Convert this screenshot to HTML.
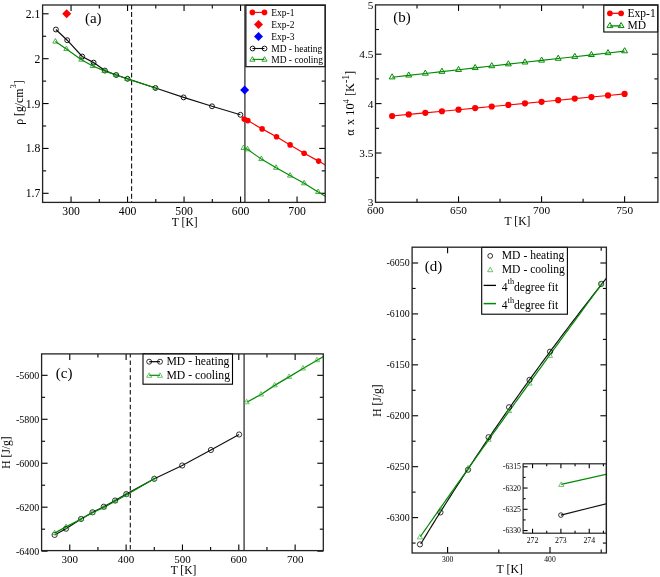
<!DOCTYPE html>
<html><head><meta charset="utf-8"><style>
html,body{margin:0;padding:0;background:#fff;}
svg{display:block;font-family:"Liberation Serif", serif;will-change:transform;filter:blur(0.3px);}
text{fill:#000;}
</style></head><body>
<svg width="660" height="577" viewBox="0 0 660 577">
<rect width="660" height="577" fill="#fff"/>
<clipPath id="ca"><rect x="42.6" y="5.0" width="282.59999999999997" height="197.4"/></clipPath>
<line x1="71.05" y1="202.4" x2="71.05" y2="196.4" stroke="#000" stroke-width="1.1" />
<line x1="71.05" y1="5" x2="71.05" y2="11" stroke="#000" stroke-width="1.1" />
<line x1="127.55" y1="202.4" x2="127.55" y2="196.4" stroke="#000" stroke-width="1.1" />
<line x1="127.55" y1="5" x2="127.55" y2="11" stroke="#000" stroke-width="1.1" />
<line x1="184.05" y1="202.4" x2="184.05" y2="196.4" stroke="#000" stroke-width="1.1" />
<line x1="184.05" y1="5" x2="184.05" y2="11" stroke="#000" stroke-width="1.1" />
<line x1="240.55" y1="202.4" x2="240.55" y2="196.4" stroke="#000" stroke-width="1.1" />
<line x1="240.55" y1="5" x2="240.55" y2="11" stroke="#000" stroke-width="1.1" />
<line x1="297.05" y1="202.4" x2="297.05" y2="196.4" stroke="#000" stroke-width="1.1" />
<line x1="297.05" y1="5" x2="297.05" y2="11" stroke="#000" stroke-width="1.1" />
<line x1="99.3" y1="202.4" x2="99.3" y2="198.9" stroke="#000" stroke-width="1.1" />
<line x1="99.3" y1="5" x2="99.3" y2="8.5" stroke="#000" stroke-width="1.1" />
<line x1="155.8" y1="202.4" x2="155.8" y2="198.9" stroke="#000" stroke-width="1.1" />
<line x1="155.8" y1="5" x2="155.8" y2="8.5" stroke="#000" stroke-width="1.1" />
<line x1="212.3" y1="202.4" x2="212.3" y2="198.9" stroke="#000" stroke-width="1.1" />
<line x1="212.3" y1="5" x2="212.3" y2="8.5" stroke="#000" stroke-width="1.1" />
<line x1="268.8" y1="202.4" x2="268.8" y2="198.9" stroke="#000" stroke-width="1.1" />
<line x1="268.8" y1="5" x2="268.8" y2="8.5" stroke="#000" stroke-width="1.1" />
<line x1="42.6" y1="193.3" x2="48.6" y2="193.3" stroke="#000" stroke-width="1.1" />
<line x1="325.2" y1="193.3" x2="319.2" y2="193.3" stroke="#000" stroke-width="1.1" />
<line x1="42.6" y1="148.43" x2="48.6" y2="148.43" stroke="#000" stroke-width="1.1" />
<line x1="325.2" y1="148.43" x2="319.2" y2="148.43" stroke="#000" stroke-width="1.1" />
<line x1="42.6" y1="103.55" x2="48.6" y2="103.55" stroke="#000" stroke-width="1.1" />
<line x1="325.2" y1="103.55" x2="319.2" y2="103.55" stroke="#000" stroke-width="1.1" />
<line x1="42.6" y1="58.68" x2="48.6" y2="58.68" stroke="#000" stroke-width="1.1" />
<line x1="325.2" y1="58.68" x2="319.2" y2="58.68" stroke="#000" stroke-width="1.1" />
<line x1="42.6" y1="13.8" x2="48.6" y2="13.8" stroke="#000" stroke-width="1.1" />
<line x1="325.2" y1="13.8" x2="319.2" y2="13.8" stroke="#000" stroke-width="1.1" />
<line x1="42.6" y1="170.86" x2="46.1" y2="170.86" stroke="#000" stroke-width="1.1" />
<line x1="325.2" y1="170.86" x2="321.7" y2="170.86" stroke="#000" stroke-width="1.1" />
<line x1="42.6" y1="125.99" x2="46.1" y2="125.99" stroke="#000" stroke-width="1.1" />
<line x1="325.2" y1="125.99" x2="321.7" y2="125.99" stroke="#000" stroke-width="1.1" />
<line x1="42.6" y1="81.11" x2="46.1" y2="81.11" stroke="#000" stroke-width="1.1" />
<line x1="325.2" y1="81.11" x2="321.7" y2="81.11" stroke="#000" stroke-width="1.1" />
<line x1="42.6" y1="36.24" x2="46.1" y2="36.24" stroke="#000" stroke-width="1.1" />
<line x1="325.2" y1="36.24" x2="321.7" y2="36.24" stroke="#000" stroke-width="1.1" />
<text x="71.05" y="214.9" font-size="11.7" text-anchor="middle" >300</text>
<text x="127.55" y="214.9" font-size="11.7" text-anchor="middle" >400</text>
<text x="184.05" y="214.9" font-size="11.7" text-anchor="middle" >500</text>
<text x="240.55" y="214.9" font-size="11.7" text-anchor="middle" >600</text>
<text x="297.05" y="214.9" font-size="11.7" text-anchor="middle" >700</text>
<text x="40.3" y="197.3" font-size="11.7" text-anchor="end" >1.7</text>
<text x="40.3" y="152.43" font-size="11.7" text-anchor="end" >1.8</text>
<text x="40.3" y="107.55" font-size="11.7" text-anchor="end" >1.9</text>
<text x="40.3" y="62.68" font-size="11.7" text-anchor="end" >2</text>
<text x="40.3" y="17.8" font-size="11.7" text-anchor="end" >2.1</text>
<text x="184.7" y="225.8" font-size="11.5" text-anchor="middle" >T [K]</text>
<text transform="translate(22.9,102.6) rotate(-90)" font-size="11.8" text-anchor="middle">ρ [g/cm<tspan dy="-6.5" font-size="8.5">3</tspan><tspan dy="6.5">]</tspan></text>
<text x="84.9" y="22.7" font-size="15" text-anchor="start" >(a)</text>
<line x1="131.6" y1="5" x2="131.6" y2="202.4" stroke="#111" stroke-width="1.1" stroke-dasharray="4.9 2.67" stroke-dashoffset="0.47"/>
<line x1="244.9" y1="5" x2="244.9" y2="202.4" stroke="#4d4d4d" stroke-width="1.5" />
<g clip-path="url(#ca)">
<polyline points="55.9,29.5 67.2,40.2 82.2,56.5 93.6,62.6 104.9,70.6 116.2,75 127.5,78.8 155.5,88 183.6,97.4 212,106.3 240.4,114.8" fill="none" stroke="#111" stroke-width="1.2" stroke-linejoin="round" />
<polyline points="55.4,41.6 66.4,49.1 81.4,59.7 92.8,66 104.4,70.9 116,75 127.3,78.9 155.5,88" fill="none" stroke="#008b00" stroke-width="1.2" stroke-linejoin="round" />
<polyline points="244.2,119.1 247.8,120.6 262.1,128.9 276.5,136.7 290.1,144.9 304.1,153.2 318.6,161.1 332.7,169.2" fill="none" stroke="#f00" stroke-width="1.2" stroke-linejoin="round" />
<polyline points="243.6,148 247.5,149.3 261.3,159.1 276.1,167.8 290.1,175.6 304.1,183.3 318.1,192 332.1,200.1" fill="none" stroke="#008b00" stroke-width="1.15" stroke-linejoin="round" />
<circle cx="55.9" cy="29.5" r="2.45" fill="none" stroke="#000" stroke-width="0.9"/>
<circle cx="67.2" cy="40.2" r="2.45" fill="none" stroke="#000" stroke-width="0.9"/>
<circle cx="82.2" cy="56.5" r="2.45" fill="none" stroke="#000" stroke-width="0.9"/>
<circle cx="93.6" cy="62.6" r="2.45" fill="none" stroke="#000" stroke-width="0.9"/>
<circle cx="104.9" cy="70.6" r="2.45" fill="none" stroke="#000" stroke-width="0.9"/>
<circle cx="116.2" cy="75" r="2.45" fill="none" stroke="#000" stroke-width="0.9"/>
<circle cx="127.5" cy="78.8" r="2.45" fill="none" stroke="#000" stroke-width="0.9"/>
<circle cx="155.5" cy="88" r="2.45" fill="none" stroke="#000" stroke-width="0.9"/>
<circle cx="183.6" cy="97.4" r="2.45" fill="none" stroke="#000" stroke-width="0.9"/>
<circle cx="212" cy="106.3" r="2.45" fill="none" stroke="#000" stroke-width="0.9"/>
<circle cx="240.4" cy="114.8" r="2.45" fill="none" stroke="#000" stroke-width="0.9"/>
<polygon points="55.4,38.6 52.8,43.1 58,43.1" fill="none" stroke="#1c9a1c" stroke-width="0.8" stroke-linejoin="round"/>
<polygon points="66.4,46.1 63.8,50.6 69,50.6" fill="none" stroke="#1c9a1c" stroke-width="0.8" stroke-linejoin="round"/>
<polygon points="81.4,56.7 78.8,61.2 84,61.2" fill="none" stroke="#1c9a1c" stroke-width="0.8" stroke-linejoin="round"/>
<polygon points="92.8,63 90.2,67.5 95.4,67.5" fill="none" stroke="#1c9a1c" stroke-width="0.8" stroke-linejoin="round"/>
<polygon points="104.4,67.9 101.8,72.4 107,72.4" fill="none" stroke="#1c9a1c" stroke-width="0.8" stroke-linejoin="round"/>
<polygon points="116,72 113.4,76.5 118.6,76.5" fill="none" stroke="#1c9a1c" stroke-width="0.8" stroke-linejoin="round"/>
<polygon points="127.3,75.9 124.7,80.4 129.9,80.4" fill="none" stroke="#1c9a1c" stroke-width="0.8" stroke-linejoin="round"/>
<polygon points="155.5,85 152.9,89.5 158.1,89.5" fill="none" stroke="#1c9a1c" stroke-width="0.8" stroke-linejoin="round"/>
<circle cx="244.2" cy="119.1" r="2.8" fill="#f00" stroke="#f00" stroke-width="0"/>
<circle cx="247.8" cy="120.6" r="2.8" fill="#f00" stroke="#f00" stroke-width="0"/>
<circle cx="262.1" cy="128.9" r="2.8" fill="#f00" stroke="#f00" stroke-width="0"/>
<circle cx="276.5" cy="136.7" r="2.8" fill="#f00" stroke="#f00" stroke-width="0"/>
<circle cx="290.1" cy="144.9" r="2.8" fill="#f00" stroke="#f00" stroke-width="0"/>
<circle cx="304.1" cy="153.2" r="2.8" fill="#f00" stroke="#f00" stroke-width="0"/>
<circle cx="318.6" cy="161.1" r="2.8" fill="#f00" stroke="#f00" stroke-width="0"/>
<circle cx="332.7" cy="169.2" r="2.8" fill="#f00" stroke="#f00" stroke-width="0"/>
<polygon points="243.6,145 241,149.5 246.2,149.5" fill="none" stroke="#1c9a1c" stroke-width="0.8" stroke-linejoin="round"/>
<polygon points="247.5,146.3 244.9,150.8 250.1,150.8" fill="none" stroke="#1c9a1c" stroke-width="0.8" stroke-linejoin="round"/>
<polygon points="261.3,156.1 258.7,160.6 263.9,160.6" fill="none" stroke="#1c9a1c" stroke-width="0.8" stroke-linejoin="round"/>
<polygon points="276.1,164.8 273.5,169.3 278.7,169.3" fill="none" stroke="#1c9a1c" stroke-width="0.8" stroke-linejoin="round"/>
<polygon points="290.1,172.6 287.5,177.1 292.7,177.1" fill="none" stroke="#1c9a1c" stroke-width="0.8" stroke-linejoin="round"/>
<polygon points="304.1,180.3 301.5,184.8 306.7,184.8" fill="none" stroke="#1c9a1c" stroke-width="0.8" stroke-linejoin="round"/>
<polygon points="318.1,189 315.5,193.5 320.7,193.5" fill="none" stroke="#1c9a1c" stroke-width="0.8" stroke-linejoin="round"/>
<polygon points="332.1,197.1 329.5,201.6 334.7,201.6" fill="none" stroke="#1c9a1c" stroke-width="0.8" stroke-linejoin="round"/>
<polygon points="66.7,9.3 71.2,13.8 66.7,18.3 62.2,13.8" fill="#f00" stroke="none"/>
<polygon points="244.6,85.5 249.1,90 244.6,94.5 240.1,90" fill="#00f" stroke="none"/>
</g>
<rect x="245.9" y="5.3" width="79.29999999999998" height="61.400000000000006" fill="#fff" stroke="#000" stroke-width="1.1"/>
<line x1="252.4" y1="12.4" x2="264.5" y2="12.4" stroke="#f00" stroke-width="1.1" />
<circle cx="252.4" cy="12.4" r="2.8" fill="#f00" stroke="#f00" stroke-width="0"/>
<circle cx="264.5" cy="12.4" r="2.8" fill="#f00" stroke="#f00" stroke-width="0"/>
<polygon points="258.5,20.1 263,24.6 258.5,29.1 254,24.6" fill="#f00" stroke="none"/>
<polygon points="258.5,31.9 263,36.4 258.5,40.9 254,36.4" fill="#00f" stroke="none"/>
<line x1="252.4" y1="48.5" x2="264.5" y2="48.5" stroke="#111" stroke-width="1.1" />
<circle cx="252.6" cy="48.5" r="2.4" fill="none" stroke="#000" stroke-width="0.9"/>
<circle cx="264.5" cy="48.5" r="2.4" fill="none" stroke="#000" stroke-width="0.9"/>
<line x1="252.4" y1="59.4" x2="264.5" y2="59.4" stroke="#008b00" stroke-width="1.1" />
<polygon points="252.4,56.7 249.8,61.2 255,61.2" fill="none" stroke="#008b00" stroke-width="0.8" stroke-linejoin="round"/>
<polygon points="264.5,56.7 261.9,61.2 267.1,61.2" fill="none" stroke="#008b00" stroke-width="0.8" stroke-linejoin="round"/>
<text x="271.2" y="15.7" font-size="9.5" text-anchor="start" >Exp-1</text>
<text x="271.2" y="27.5" font-size="9.5" text-anchor="start" >Exp-2</text>
<text x="271.2" y="39.7" font-size="9.5" text-anchor="start" >Exp-3</text>
<text x="271.2" y="51.8" font-size="9.5" text-anchor="start" >MD - heating</text>
<text x="271.2" y="62.7" font-size="9.5" text-anchor="start" >MD - cooling</text>
<rect x="42.6" y="5" width="282.6" height="197.4" fill="none" stroke="#222" stroke-width="1.3"/>
<line x1="458.53" y1="202.3" x2="458.53" y2="196.3" stroke="#000" stroke-width="1.1" />
<line x1="458.53" y1="4.9" x2="458.53" y2="10.9" stroke="#000" stroke-width="1.1" />
<line x1="541.57" y1="202.3" x2="541.57" y2="196.3" stroke="#000" stroke-width="1.1" />
<line x1="541.57" y1="4.9" x2="541.57" y2="10.9" stroke="#000" stroke-width="1.1" />
<line x1="624.61" y1="202.3" x2="624.61" y2="196.3" stroke="#000" stroke-width="1.1" />
<line x1="624.61" y1="4.9" x2="624.61" y2="10.9" stroke="#000" stroke-width="1.1" />
<line x1="417.02" y1="202.3" x2="417.02" y2="198.8" stroke="#000" stroke-width="1.1" />
<line x1="417.02" y1="4.9" x2="417.02" y2="8.4" stroke="#000" stroke-width="1.1" />
<line x1="500.05" y1="202.3" x2="500.05" y2="198.8" stroke="#000" stroke-width="1.1" />
<line x1="500.05" y1="4.9" x2="500.05" y2="8.4" stroke="#000" stroke-width="1.1" />
<line x1="583.09" y1="202.3" x2="583.09" y2="198.8" stroke="#000" stroke-width="1.1" />
<line x1="583.09" y1="4.9" x2="583.09" y2="8.4" stroke="#000" stroke-width="1.1" />
<line x1="375.5" y1="153" x2="381.5" y2="153" stroke="#000" stroke-width="1.1" />
<line x1="657.9" y1="153" x2="651.9" y2="153" stroke="#000" stroke-width="1.1" />
<line x1="375.5" y1="103.6" x2="381.5" y2="103.6" stroke="#000" stroke-width="1.1" />
<line x1="657.9" y1="103.6" x2="651.9" y2="103.6" stroke="#000" stroke-width="1.1" />
<line x1="375.5" y1="54.2" x2="381.5" y2="54.2" stroke="#000" stroke-width="1.1" />
<line x1="657.9" y1="54.2" x2="651.9" y2="54.2" stroke="#000" stroke-width="1.1" />
<line x1="375.5" y1="177.7" x2="379" y2="177.7" stroke="#000" stroke-width="1.1" />
<line x1="657.9" y1="177.7" x2="654.4" y2="177.7" stroke="#000" stroke-width="1.1" />
<line x1="375.5" y1="128.3" x2="379" y2="128.3" stroke="#000" stroke-width="1.1" />
<line x1="657.9" y1="128.3" x2="654.4" y2="128.3" stroke="#000" stroke-width="1.1" />
<line x1="375.5" y1="78.9" x2="379" y2="78.9" stroke="#000" stroke-width="1.1" />
<line x1="657.9" y1="78.9" x2="654.4" y2="78.9" stroke="#000" stroke-width="1.1" />
<line x1="375.5" y1="29.5" x2="379" y2="29.5" stroke="#000" stroke-width="1.1" />
<line x1="657.9" y1="29.5" x2="654.4" y2="29.5" stroke="#000" stroke-width="1.1" />
<text x="375.5" y="214.1" font-size="11.3" text-anchor="middle" >600</text>
<text x="458.53" y="214.1" font-size="11.3" text-anchor="middle" >650</text>
<text x="541.57" y="214.1" font-size="11.3" text-anchor="middle" >700</text>
<text x="624.61" y="214.1" font-size="11.3" text-anchor="middle" >750</text>
<text x="373.4" y="206.3" font-size="11.3" text-anchor="end" >3</text>
<text x="373.4" y="156.9" font-size="11.3" text-anchor="end" >3.5</text>
<text x="373.4" y="107.5" font-size="11.3" text-anchor="end" >4</text>
<text x="373.4" y="58.1" font-size="11.3" text-anchor="end" >4.5</text>
<text x="373.4" y="8.7" font-size="11.3" text-anchor="end" >5</text>
<text x="517.5" y="225.2" font-size="11.6" text-anchor="middle" >T [K]</text>
<text transform="translate(354.3,103.3) rotate(-90)" font-size="12.3" text-anchor="middle">α<tspan dx="1.3"> x 10</tspan><tspan dy="-5.5" font-size="8.5">4</tspan><tspan dy="5.5"> [K</tspan><tspan dy="-5.5" font-size="9.8">-1</tspan><tspan dy="5.5">]</tspan></text>
<text x="393.3" y="21.6" font-size="15" text-anchor="start" >(b)</text>
<polyline points="392.11,116 408.71,114.42 425.32,112.84 441.93,111.26 458.53,109.68 475.14,108.1 491.75,106.52 508.36,104.94 524.96,103.36 541.57,101.78 558.18,100.2 574.78,98.62 591.39,97.04 608,95.46 624.61,93.88" fill="none" stroke="#f00" stroke-width="1.1" stroke-linejoin="round" />
<polyline points="392.11,77.2 408.71,75.34 425.32,73.47 441.93,71.61 458.53,69.74 475.14,67.88 491.75,66.02 508.36,64.15 524.96,62.29 541.57,60.42 558.18,58.56 574.78,56.7 591.39,54.83 608,52.97 624.61,51.1" fill="none" stroke="#008b00" stroke-width="1.1" stroke-linejoin="round" />
<circle cx="392.11" cy="116" r="3.1" fill="#f00" stroke="#f00" stroke-width="0"/>
<circle cx="408.71" cy="114.42" r="3.1" fill="#f00" stroke="#f00" stroke-width="0"/>
<circle cx="425.32" cy="112.84" r="3.1" fill="#f00" stroke="#f00" stroke-width="0"/>
<circle cx="441.93" cy="111.26" r="3.1" fill="#f00" stroke="#f00" stroke-width="0"/>
<circle cx="458.53" cy="109.68" r="3.1" fill="#f00" stroke="#f00" stroke-width="0"/>
<circle cx="475.14" cy="108.1" r="3.1" fill="#f00" stroke="#f00" stroke-width="0"/>
<circle cx="491.75" cy="106.52" r="3.1" fill="#f00" stroke="#f00" stroke-width="0"/>
<circle cx="508.36" cy="104.94" r="3.1" fill="#f00" stroke="#f00" stroke-width="0"/>
<circle cx="524.96" cy="103.36" r="3.1" fill="#f00" stroke="#f00" stroke-width="0"/>
<circle cx="541.57" cy="101.78" r="3.1" fill="#f00" stroke="#f00" stroke-width="0"/>
<circle cx="558.18" cy="100.2" r="3.1" fill="#f00" stroke="#f00" stroke-width="0"/>
<circle cx="574.78" cy="98.62" r="3.1" fill="#f00" stroke="#f00" stroke-width="0"/>
<circle cx="591.39" cy="97.04" r="3.1" fill="#f00" stroke="#f00" stroke-width="0"/>
<circle cx="608" cy="95.46" r="3.1" fill="#f00" stroke="#f00" stroke-width="0"/>
<circle cx="624.61" cy="93.88" r="3.1" fill="#f00" stroke="#f00" stroke-width="0"/>
<polygon points="392.11,73.8 389.16,78.9 395.05,78.9" fill="none" stroke="#008b00" stroke-width="1.0" stroke-linejoin="round"/>
<polygon points="408.71,71.94 405.77,77.04 411.66,77.04" fill="none" stroke="#008b00" stroke-width="1.0" stroke-linejoin="round"/>
<polygon points="425.32,70.07 422.38,75.17 428.27,75.17" fill="none" stroke="#008b00" stroke-width="1.0" stroke-linejoin="round"/>
<polygon points="441.93,68.21 438.98,73.31 444.87,73.31" fill="none" stroke="#008b00" stroke-width="1.0" stroke-linejoin="round"/>
<polygon points="458.53,66.34 455.59,71.44 461.48,71.44" fill="none" stroke="#008b00" stroke-width="1.0" stroke-linejoin="round"/>
<polygon points="475.14,64.48 472.2,69.58 478.09,69.58" fill="none" stroke="#008b00" stroke-width="1.0" stroke-linejoin="round"/>
<polygon points="491.75,62.62 488.8,67.72 494.69,67.72" fill="none" stroke="#008b00" stroke-width="1.0" stroke-linejoin="round"/>
<polygon points="508.36,60.75 505.41,65.85 511.3,65.85" fill="none" stroke="#008b00" stroke-width="1.0" stroke-linejoin="round"/>
<polygon points="524.96,58.89 522.02,63.99 527.91,63.99" fill="none" stroke="#008b00" stroke-width="1.0" stroke-linejoin="round"/>
<polygon points="541.57,57.02 538.63,62.12 544.51,62.12" fill="none" stroke="#008b00" stroke-width="1.0" stroke-linejoin="round"/>
<polygon points="558.18,55.16 555.23,60.26 561.12,60.26" fill="none" stroke="#008b00" stroke-width="1.0" stroke-linejoin="round"/>
<polygon points="574.78,53.3 571.84,58.4 577.73,58.4" fill="none" stroke="#008b00" stroke-width="1.0" stroke-linejoin="round"/>
<polygon points="591.39,51.43 588.45,56.53 594.34,56.53" fill="none" stroke="#008b00" stroke-width="1.0" stroke-linejoin="round"/>
<polygon points="608,49.57 605.05,54.67 610.94,54.67" fill="none" stroke="#008b00" stroke-width="1.0" stroke-linejoin="round"/>
<polygon points="624.61,47.7 621.66,52.8 627.55,52.8" fill="none" stroke="#008b00" stroke-width="1.0" stroke-linejoin="round"/>
<rect x="603.8" y="5.1" width="53.90000000000009" height="26.9" fill="#fff" stroke="#000" stroke-width="1.1"/>
<line x1="609.9" y1="13.3" x2="621.1" y2="13.3" stroke="#f00" stroke-width="1.3" />
<circle cx="609.9" cy="13.3" r="2.9" fill="#f00" stroke="#f00" stroke-width="0"/>
<circle cx="621.1" cy="13.3" r="2.9" fill="#f00" stroke="#f00" stroke-width="0"/>
<line x1="609.9" y1="25.9" x2="621.1" y2="25.9" stroke="#008b00" stroke-width="1.3" />
<polygon points="609.9,22.5 606.96,27.6 612.84,27.6" fill="none" stroke="#008b00" stroke-width="1.0" stroke-linejoin="round"/>
<polygon points="621.1,22.5 618.16,27.6 624.04,27.6" fill="none" stroke="#008b00" stroke-width="1.0" stroke-linejoin="round"/>
<text x="627.6" y="16.8" font-size="11.5" text-anchor="start" >Exp-1</text>
<text x="627.6" y="29.1" font-size="11.5" text-anchor="start" >MD</text>
<rect x="375.5" y="4.9" width="282.4" height="197.4" fill="none" stroke="#222" stroke-width="1.3"/>
<clipPath id="cc"><rect x="41.6" y="353.9" width="281.7" height="196.70000000000005"/></clipPath>
<line x1="69.77" y1="550.6" x2="69.77" y2="544.6" stroke="#000" stroke-width="1.1" />
<line x1="69.77" y1="353.9" x2="69.77" y2="359.9" stroke="#000" stroke-width="1.1" />
<line x1="126.11" y1="550.6" x2="126.11" y2="544.6" stroke="#000" stroke-width="1.1" />
<line x1="126.11" y1="353.9" x2="126.11" y2="359.9" stroke="#000" stroke-width="1.1" />
<line x1="182.45" y1="550.6" x2="182.45" y2="544.6" stroke="#000" stroke-width="1.1" />
<line x1="182.45" y1="353.9" x2="182.45" y2="359.9" stroke="#000" stroke-width="1.1" />
<line x1="238.79" y1="550.6" x2="238.79" y2="544.6" stroke="#000" stroke-width="1.1" />
<line x1="238.79" y1="353.9" x2="238.79" y2="359.9" stroke="#000" stroke-width="1.1" />
<line x1="295.13" y1="550.6" x2="295.13" y2="544.6" stroke="#000" stroke-width="1.1" />
<line x1="295.13" y1="353.9" x2="295.13" y2="359.9" stroke="#000" stroke-width="1.1" />
<line x1="97.94" y1="550.6" x2="97.94" y2="547.1" stroke="#000" stroke-width="1.1" />
<line x1="97.94" y1="353.9" x2="97.94" y2="357.4" stroke="#000" stroke-width="1.1" />
<line x1="154.28" y1="550.6" x2="154.28" y2="547.1" stroke="#000" stroke-width="1.1" />
<line x1="154.28" y1="353.9" x2="154.28" y2="357.4" stroke="#000" stroke-width="1.1" />
<line x1="210.62" y1="550.6" x2="210.62" y2="547.1" stroke="#000" stroke-width="1.1" />
<line x1="210.62" y1="353.9" x2="210.62" y2="357.4" stroke="#000" stroke-width="1.1" />
<line x1="266.96" y1="550.6" x2="266.96" y2="547.1" stroke="#000" stroke-width="1.1" />
<line x1="266.96" y1="353.9" x2="266.96" y2="357.4" stroke="#000" stroke-width="1.1" />
<line x1="41.6" y1="551.16" x2="47.6" y2="551.16" stroke="#000" stroke-width="1.1" />
<line x1="323.3" y1="551.16" x2="317.3" y2="551.16" stroke="#000" stroke-width="1.1" />
<line x1="41.6" y1="507.2" x2="47.6" y2="507.2" stroke="#000" stroke-width="1.1" />
<line x1="323.3" y1="507.2" x2="317.3" y2="507.2" stroke="#000" stroke-width="1.1" />
<line x1="41.6" y1="463.24" x2="47.6" y2="463.24" stroke="#000" stroke-width="1.1" />
<line x1="323.3" y1="463.24" x2="317.3" y2="463.24" stroke="#000" stroke-width="1.1" />
<line x1="41.6" y1="419.28" x2="47.6" y2="419.28" stroke="#000" stroke-width="1.1" />
<line x1="323.3" y1="419.28" x2="317.3" y2="419.28" stroke="#000" stroke-width="1.1" />
<line x1="41.6" y1="375.32" x2="47.6" y2="375.32" stroke="#000" stroke-width="1.1" />
<line x1="323.3" y1="375.32" x2="317.3" y2="375.32" stroke="#000" stroke-width="1.1" />
<line x1="41.6" y1="529.18" x2="45.1" y2="529.18" stroke="#000" stroke-width="1.1" />
<line x1="323.3" y1="529.18" x2="319.8" y2="529.18" stroke="#000" stroke-width="1.1" />
<line x1="41.6" y1="485.22" x2="45.1" y2="485.22" stroke="#000" stroke-width="1.1" />
<line x1="323.3" y1="485.22" x2="319.8" y2="485.22" stroke="#000" stroke-width="1.1" />
<line x1="41.6" y1="441.26" x2="45.1" y2="441.26" stroke="#000" stroke-width="1.1" />
<line x1="323.3" y1="441.26" x2="319.8" y2="441.26" stroke="#000" stroke-width="1.1" />
<line x1="41.6" y1="397.3" x2="45.1" y2="397.3" stroke="#000" stroke-width="1.1" />
<line x1="323.3" y1="397.3" x2="319.8" y2="397.3" stroke="#000" stroke-width="1.1" />
<text x="69.77" y="562.6" font-size="11" text-anchor="middle" >300</text>
<text x="126.11" y="562.6" font-size="11" text-anchor="middle" >400</text>
<text x="182.45" y="562.6" font-size="11" text-anchor="middle" >500</text>
<text x="238.79" y="562.6" font-size="11" text-anchor="middle" >600</text>
<text x="295.13" y="562.6" font-size="11" text-anchor="middle" >700</text>
<text x="39.3" y="554.56" font-size="10" text-anchor="end" >-6400</text>
<text x="39.3" y="510.6" font-size="10" text-anchor="end" >-6200</text>
<text x="39.3" y="466.64" font-size="10" text-anchor="end" >-6000</text>
<text x="39.3" y="422.68" font-size="10" text-anchor="end" >-5800</text>
<text x="39.3" y="378.72" font-size="10" text-anchor="end" >-5600</text>
<text x="183.5" y="573.7" font-size="11.5" text-anchor="middle" >T [K]</text>
<text transform="translate(9.9,452.5) rotate(-90)" font-size="11.5" text-anchor="middle">H [J/g]</text>
<text x="55.8" y="378.2" font-size="15" text-anchor="start" >(c)</text>
<line x1="130.3" y1="353.9" x2="130.3" y2="550.6" stroke="#111" stroke-width="1.1" stroke-dasharray="4.6 2.784" stroke-dashoffset="0.9"/>
<line x1="244.1" y1="353.9" x2="244.1" y2="550.6" stroke="#4d4d4d" stroke-width="1.5" />
<g clip-path="url(#cc)">
<polyline points="54.6,534.9 66,528.7 81.1,518.9 92.5,512.3 103.8,506.7 115.1,500.5 126.3,494.1 154.3,478.8 182.2,465.5 210.9,450 239.1,434.5" fill="none" stroke="#111" stroke-width="1.15" stroke-linejoin="round" />
<polyline points="54.6,533.1 66,526.9 81.1,519 92.5,512.7 103.8,507.5 115.1,501.2 126.3,494.9 154.3,478.8" fill="none" stroke="#008b00" stroke-width="1.2" stroke-linejoin="round" />
<polyline points="246.7,402.3 261,394.5 274.7,385.4 289.1,376.9 303,368.5 317.1,360.2 331.2,351.9" fill="none" stroke="#008b00" stroke-width="1.3" stroke-linejoin="round" />
<circle cx="54.6" cy="534.9" r="2.6" fill="none" stroke="#000" stroke-width="0.8"/>
<circle cx="66" cy="528.7" r="2.6" fill="none" stroke="#000" stroke-width="0.8"/>
<circle cx="81.1" cy="518.9" r="2.6" fill="none" stroke="#000" stroke-width="0.8"/>
<circle cx="92.5" cy="512.3" r="2.6" fill="none" stroke="#000" stroke-width="0.8"/>
<circle cx="103.8" cy="506.7" r="2.6" fill="none" stroke="#000" stroke-width="0.8"/>
<circle cx="115.1" cy="500.5" r="2.6" fill="none" stroke="#000" stroke-width="0.8"/>
<circle cx="126.3" cy="494.1" r="2.6" fill="none" stroke="#000" stroke-width="0.8"/>
<circle cx="154.3" cy="478.8" r="2.6" fill="none" stroke="#000" stroke-width="0.8"/>
<circle cx="182.2" cy="465.5" r="2.6" fill="none" stroke="#000" stroke-width="0.8"/>
<circle cx="210.9" cy="450" r="2.6" fill="none" stroke="#000" stroke-width="0.8"/>
<circle cx="239.1" cy="434.5" r="2.6" fill="none" stroke="#000" stroke-width="0.8"/>
<polygon points="54.6,530.1 52,534.6 57.2,534.6" fill="none" stroke="#3a3" stroke-width="0.7" stroke-linejoin="round"/>
<polygon points="66,523.9 63.4,528.4 68.6,528.4" fill="none" stroke="#3a3" stroke-width="0.7" stroke-linejoin="round"/>
<polygon points="81.1,516 78.5,520.5 83.7,520.5" fill="none" stroke="#3a3" stroke-width="0.7" stroke-linejoin="round"/>
<polygon points="92.5,509.7 89.9,514.2 95.1,514.2" fill="none" stroke="#3a3" stroke-width="0.7" stroke-linejoin="round"/>
<polygon points="103.8,504.5 101.2,509 106.4,509" fill="none" stroke="#3a3" stroke-width="0.7" stroke-linejoin="round"/>
<polygon points="115.1,498.2 112.5,502.7 117.7,502.7" fill="none" stroke="#3a3" stroke-width="0.7" stroke-linejoin="round"/>
<polygon points="126.3,491.9 123.7,496.4 128.9,496.4" fill="none" stroke="#3a3" stroke-width="0.7" stroke-linejoin="round"/>
<polygon points="154.3,475.8 151.7,480.3 156.9,480.3" fill="none" stroke="#3a3" stroke-width="0.7" stroke-linejoin="round"/>
<polygon points="246.7,399.3 244.1,403.8 249.3,403.8" fill="none" stroke="#3a3" stroke-width="0.7" stroke-linejoin="round"/>
<polygon points="261,391.5 258.4,396 263.6,396" fill="none" stroke="#3a3" stroke-width="0.7" stroke-linejoin="round"/>
<polygon points="274.7,382.4 272.1,386.9 277.3,386.9" fill="none" stroke="#3a3" stroke-width="0.7" stroke-linejoin="round"/>
<polygon points="289.1,373.9 286.5,378.4 291.7,378.4" fill="none" stroke="#3a3" stroke-width="0.7" stroke-linejoin="round"/>
<polygon points="303,365.5 300.4,370 305.6,370" fill="none" stroke="#3a3" stroke-width="0.7" stroke-linejoin="round"/>
<polygon points="317.1,357.2 314.5,361.7 319.7,361.7" fill="none" stroke="#3a3" stroke-width="0.7" stroke-linejoin="round"/>
<polygon points="331.2,348.9 328.6,353.4 333.8,353.4" fill="none" stroke="#3a3" stroke-width="0.7" stroke-linejoin="round"/>
</g>
<rect x="143" y="353.7" width="89.5" height="30.5" fill="#fff" stroke="#000" stroke-width="1.1"/>
<line x1="149.2" y1="361.7" x2="160" y2="361.7" stroke="#000" stroke-width="1.2" />
<circle cx="149.2" cy="361.7" r="2.5" fill="none" stroke="#000" stroke-width="0.8"/>
<circle cx="160" cy="361.7" r="2.5" fill="none" stroke="#000" stroke-width="0.8"/>
<line x1="149.2" y1="375.3" x2="160" y2="375.3" stroke="#008b00" stroke-width="1.2" />
<polygon points="149.2,372.8 146.6,377.3 151.8,377.3" fill="none" stroke="#3a3" stroke-width="0.7" stroke-linejoin="round"/>
<polygon points="160,372.8 157.4,377.3 162.6,377.3" fill="none" stroke="#3a3" stroke-width="0.7" stroke-linejoin="round"/>
<text x="166.4" y="365.2" font-size="11.7" text-anchor="start" >MD - heating</text>
<text x="166.4" y="378.8" font-size="11.7" text-anchor="start" >MD - cooling</text>
<rect x="41.6" y="353.9" width="281.7" height="196.7" fill="none" stroke="#222" stroke-width="1.3"/>
<clipPath id="cd"><rect x="412.1" y="247.2" width="194.29999999999995" height="305.8"/></clipPath>
<line x1="447.6" y1="553" x2="447.6" y2="547" stroke="#000" stroke-width="1.1" />
<line x1="447.6" y1="247.2" x2="447.6" y2="253.2" stroke="#000" stroke-width="1.1" />
<line x1="550" y1="553" x2="550" y2="547" stroke="#000" stroke-width="1.1" />
<line x1="550" y1="247.2" x2="550" y2="253.2" stroke="#000" stroke-width="1.1" />
<line x1="498.8" y1="553" x2="498.8" y2="549.5" stroke="#000" stroke-width="1.1" />
<line x1="498.8" y1="247.2" x2="498.8" y2="250.7" stroke="#000" stroke-width="1.1" />
<line x1="601.2" y1="553" x2="601.2" y2="549.5" stroke="#000" stroke-width="1.1" />
<line x1="601.2" y1="247.2" x2="601.2" y2="250.7" stroke="#000" stroke-width="1.1" />
<line x1="412.1" y1="517.6" x2="418.1" y2="517.6" stroke="#000" stroke-width="1.1" />
<line x1="606.4" y1="517.6" x2="600.4" y2="517.6" stroke="#000" stroke-width="1.1" />
<line x1="412.1" y1="466.68" x2="418.1" y2="466.68" stroke="#000" stroke-width="1.1" />
<line x1="606.4" y1="466.68" x2="600.4" y2="466.68" stroke="#000" stroke-width="1.1" />
<line x1="412.1" y1="415.76" x2="418.1" y2="415.76" stroke="#000" stroke-width="1.1" />
<line x1="606.4" y1="415.76" x2="600.4" y2="415.76" stroke="#000" stroke-width="1.1" />
<line x1="412.1" y1="364.84" x2="418.1" y2="364.84" stroke="#000" stroke-width="1.1" />
<line x1="606.4" y1="364.84" x2="600.4" y2="364.84" stroke="#000" stroke-width="1.1" />
<line x1="412.1" y1="313.92" x2="418.1" y2="313.92" stroke="#000" stroke-width="1.1" />
<line x1="606.4" y1="313.92" x2="600.4" y2="313.92" stroke="#000" stroke-width="1.1" />
<line x1="412.1" y1="263" x2="418.1" y2="263" stroke="#000" stroke-width="1.1" />
<line x1="606.4" y1="263" x2="600.4" y2="263" stroke="#000" stroke-width="1.1" />
<line x1="412.1" y1="543.06" x2="415.6" y2="543.06" stroke="#000" stroke-width="1.1" />
<line x1="606.4" y1="543.06" x2="602.9" y2="543.06" stroke="#000" stroke-width="1.1" />
<line x1="412.1" y1="492.14" x2="415.6" y2="492.14" stroke="#000" stroke-width="1.1" />
<line x1="606.4" y1="492.14" x2="602.9" y2="492.14" stroke="#000" stroke-width="1.1" />
<line x1="412.1" y1="441.22" x2="415.6" y2="441.22" stroke="#000" stroke-width="1.1" />
<line x1="606.4" y1="441.22" x2="602.9" y2="441.22" stroke="#000" stroke-width="1.1" />
<line x1="412.1" y1="390.3" x2="415.6" y2="390.3" stroke="#000" stroke-width="1.1" />
<line x1="606.4" y1="390.3" x2="602.9" y2="390.3" stroke="#000" stroke-width="1.1" />
<line x1="412.1" y1="339.38" x2="415.6" y2="339.38" stroke="#000" stroke-width="1.1" />
<line x1="606.4" y1="339.38" x2="602.9" y2="339.38" stroke="#000" stroke-width="1.1" />
<line x1="412.1" y1="288.46" x2="415.6" y2="288.46" stroke="#000" stroke-width="1.1" />
<line x1="606.4" y1="288.46" x2="602.9" y2="288.46" stroke="#000" stroke-width="1.1" />
<text x="447.6" y="561.8" font-size="7.6" text-anchor="middle" >300</text>
<text x="550" y="561.8" font-size="7.6" text-anchor="middle" >400</text>
<text x="409.6" y="521" font-size="9.9" text-anchor="end" >-6300</text>
<text x="409.6" y="470.08" font-size="9.9" text-anchor="end" >-6250</text>
<text x="409.6" y="419.16" font-size="9.9" text-anchor="end" >-6200</text>
<text x="409.6" y="368.24" font-size="9.9" text-anchor="end" >-6150</text>
<text x="409.6" y="317.32" font-size="9.9" text-anchor="end" >-6100</text>
<text x="409.6" y="266.4" font-size="9.9" text-anchor="end" >-6050</text>
<text x="509.7" y="573.4" font-size="11.8" text-anchor="middle" >T [K]</text>
<text transform="translate(381.2,400.6) rotate(-90)" font-size="11.5" text-anchor="middle">H [J/g]</text>
<text x="424.7" y="271.4" font-size="15" text-anchor="start" >(d)</text>
<g clip-path="url(#cd)">
<polyline points="420.73,544 422.58,540.94 424.43,537.89 426.29,534.83 428.16,531.78 430.04,528.72 431.92,525.66 433.81,522.61 435.7,519.55 437.6,516.49 439.51,513.44 441.43,510.38 443.35,507.33 445.28,504.27 447.21,501.21 449.16,498.16 451.1,495.1 453.06,492.04 455.02,488.99 456.99,485.93 458.96,482.88 460.95,479.82 462.94,476.76 464.93,473.71 466.93,470.65 468.94,467.6 470.96,464.54 472.98,461.48 475.01,458.43 477.04,455.37 479.08,452.31 481.13,449.26 483.19,446.2 485.25,443.15 487.32,440.09 489.39,437.03 491.47,433.98 493.56,430.92 495.66,427.87 497.76,424.81 499.87,421.75 501.98,418.7 504.11,415.64 506.23,412.58 508.37,409.53 510.51,406.47 512.66,403.42 514.82,400.36 516.98,397.3 519.15,394.25 521.32,391.19 523.5,388.13 525.69,385.08 527.89,382.02 530.09,378.97 532.3,375.91 534.51,372.85 536.74,369.8 538.96,366.74 541.2,363.69 543.44,360.63 545.69,357.57 547.95,354.52 550.21,351.46 552.48,348.4 554.75,345.35 557.03,342.29 559.32,339.24 561.62,336.18 563.92,333.12 566.23,330.07 568.54,327.01 570.86,323.96 573.19,320.9 575.53,317.84 577.87,314.79 580.22,311.73 582.57,308.67 584.94,305.62 587.31,302.56 589.68,299.51 592.06,296.45 594.45,293.39 596.85,290.34 599.25,287.28 601.66,284.22 604.07,281.17 606.49,278.11 608.92,275.06 611.36,272" fill="none" stroke="#111" stroke-width="1.2" stroke-linejoin="round" />
<polyline points="420.36,536.6 422.34,533.76 424.33,530.91 426.32,528.07 428.31,525.23 430.3,522.39 432.29,519.54 434.29,516.7 436.28,513.86 438.28,511.02 440.28,508.17 442.28,505.33 444.28,502.49 446.28,499.64 448.28,496.8 450.28,493.96 452.29,491.12 454.29,488.27 456.3,485.43 458.31,482.59 460.32,479.75 462.33,476.9 464.35,474.06 466.36,471.22 468.37,468.38 470.39,465.53 472.41,462.69 474.43,459.85 476.45,457 478.47,454.16 480.49,451.32 482.51,448.48 484.54,445.63 486.57,442.79 488.59,439.95 490.62,437.11 492.65,434.26 494.68,431.42 496.72,428.58 498.75,425.73 500.78,422.89 502.82,420.05 504.86,417.21 506.9,414.36 508.94,411.52 510.98,408.68 513.02,405.84 515.06,402.99 517.11,400.15 519.16,397.31 521.2,394.47 523.25,391.62 525.3,388.78 527.35,385.94 529.41,383.09 531.46,380.25 533.51,377.41 535.57,374.57 537.63,371.72 539.69,368.88 541.75,366.04 543.81,363.2 545.87,360.35 547.93,357.51 550,354.67 552.06,351.82 554.13,348.98 556.2,346.14 558.27,343.3 560.34,340.45 562.41,337.61 564.49,334.77 566.56,331.93 568.64,329.08 570.72,326.24 572.79,323.4 574.87,320.56 576.95,317.71 579.04,314.87 581.12,312.03 583.21,309.18 585.29,306.34 587.38,303.5 589.47,300.66 591.56,297.81 593.65,294.97 595.74,292.13 597.83,289.29 599.93,286.44 602.02,283.6" fill="none" stroke="#008b00" stroke-width="1.2" stroke-linejoin="round" />
<circle cx="419.95" cy="544.4" r="2.6" fill="none" stroke="#000" stroke-width="0.8"/>
<circle cx="440.43" cy="512.4" r="2.6" fill="none" stroke="#000" stroke-width="0.8"/>
<circle cx="468.08" cy="469.7" r="2.6" fill="none" stroke="#000" stroke-width="0.8"/>
<circle cx="488.56" cy="437.2" r="2.6" fill="none" stroke="#000" stroke-width="0.8"/>
<circle cx="509.04" cy="407.2" r="2.6" fill="none" stroke="#000" stroke-width="0.8"/>
<circle cx="529.52" cy="379.9" r="2.6" fill="none" stroke="#000" stroke-width="0.8"/>
<circle cx="550" cy="351.7" r="2.6" fill="none" stroke="#000" stroke-width="0.8"/>
<circle cx="601.2" cy="283.9" r="2.6" fill="none" stroke="#000" stroke-width="0.8"/>
<polygon points="419.95,534.4 417.35,538.9 422.55,538.9" fill="none" stroke="#3a3" stroke-width="0.7" stroke-linejoin="round"/>
<polygon points="440.43,506.9 437.83,511.4 443.03,511.4" fill="none" stroke="#3a3" stroke-width="0.7" stroke-linejoin="round"/>
<polygon points="468.08,465.4 465.48,469.9 470.68,469.9" fill="none" stroke="#3a3" stroke-width="0.7" stroke-linejoin="round"/>
<polygon points="488.56,436.8 485.96,441.3 491.16,441.3" fill="none" stroke="#3a3" stroke-width="0.7" stroke-linejoin="round"/>
<polygon points="509.04,408.1 506.44,412.6 511.64,412.6" fill="none" stroke="#3a3" stroke-width="0.7" stroke-linejoin="round"/>
<polygon points="529.52,380.6 526.92,385.1 532.12,385.1" fill="none" stroke="#3a3" stroke-width="0.7" stroke-linejoin="round"/>
<polygon points="550,352.9 547.4,357.4 552.6,357.4" fill="none" stroke="#3a3" stroke-width="0.7" stroke-linejoin="round"/>
<polygon points="601.2,280.9 598.6,285.4 603.8,285.4" fill="none" stroke="#3a3" stroke-width="0.7" stroke-linejoin="round"/>
</g>
<rect x="481.7" y="247.4" width="85.69999999999999" height="66.79999999999998" fill="#fff" stroke="#000" stroke-width="1.1"/>
<circle cx="490.2" cy="255.9" r="2.4" fill="none" stroke="#000" stroke-width="0.8"/>
<polygon points="490.2,267.2 487.6,271.7 492.8,271.7" fill="none" stroke="#3a3" stroke-width="0.7" stroke-linejoin="round"/>
<line x1="483.6" y1="285.4" x2="496" y2="285.4" stroke="#000" stroke-width="1.3" />
<line x1="483.6" y1="303.6" x2="496" y2="303.6" stroke="#008b00" stroke-width="1.5" />
<text x="501.8" y="258.7" font-size="11.6" text-anchor="start" >MD - heating</text>
<text x="501.8" y="272.9" font-size="11.6" text-anchor="start" >MD - cooling</text>
<text x="501.8" y="290.9" font-size="11.6">4<tspan dy="-6.5" font-size="8.3">th</tspan><tspan dy="6.5">degree fit</tspan></text>
<text x="501.8" y="309.0" font-size="11.6">4<tspan dy="-6.5" font-size="8.3">th</tspan><tspan dy="6.5">degree fit</tspan></text>
<rect x="523.1" y="463.8" width="83.29999999999995" height="69.40000000000003" fill="#fff" stroke="none"/>
<clipPath id="ci"><rect x="523.1" y="463.8" width="83.29999999999995" height="69.40000000000003"/></clipPath>
<line x1="532.55" y1="533.2" x2="532.55" y2="528.7" stroke="#000" stroke-width="1.1" />
<line x1="532.55" y1="463.8" x2="532.55" y2="468.3" stroke="#000" stroke-width="1.1" />
<line x1="560.9" y1="533.2" x2="560.9" y2="528.7" stroke="#000" stroke-width="1.1" />
<line x1="560.9" y1="463.8" x2="560.9" y2="468.3" stroke="#000" stroke-width="1.1" />
<line x1="589.25" y1="533.2" x2="589.25" y2="528.7" stroke="#000" stroke-width="1.1" />
<line x1="589.25" y1="463.8" x2="589.25" y2="468.3" stroke="#000" stroke-width="1.1" />
<line x1="546.73" y1="533.2" x2="546.73" y2="530.7" stroke="#000" stroke-width="1.1" />
<line x1="546.73" y1="463.8" x2="546.73" y2="466.3" stroke="#000" stroke-width="1.1" />
<line x1="575.07" y1="533.2" x2="575.07" y2="530.7" stroke="#000" stroke-width="1.1" />
<line x1="575.07" y1="463.8" x2="575.07" y2="466.3" stroke="#000" stroke-width="1.1" />
<line x1="603.42" y1="533.2" x2="603.42" y2="530.7" stroke="#000" stroke-width="1.1" />
<line x1="603.42" y1="463.8" x2="603.42" y2="466.3" stroke="#000" stroke-width="1.1" />
<line x1="523.1" y1="530.57" x2="527.6" y2="530.57" stroke="#000" stroke-width="1.1" />
<line x1="523.1" y1="509.3" x2="527.6" y2="509.3" stroke="#000" stroke-width="1.1" />
<line x1="523.1" y1="488.04" x2="527.6" y2="488.04" stroke="#000" stroke-width="1.1" />
<line x1="523.1" y1="466.77" x2="527.6" y2="466.77" stroke="#000" stroke-width="1.1" />
<line x1="523.1" y1="519.93" x2="525.6" y2="519.93" stroke="#000" stroke-width="1.1" />
<line x1="523.1" y1="498.67" x2="525.6" y2="498.67" stroke="#000" stroke-width="1.1" />
<line x1="523.1" y1="477.4" x2="525.6" y2="477.4" stroke="#000" stroke-width="1.1" />
<text x="532.55" y="542.5" font-size="7.8" text-anchor="middle" >272</text>
<text x="560.9" y="542.5" font-size="7.8" text-anchor="middle" >273</text>
<text x="589.25" y="542.5" font-size="7.8" text-anchor="middle" >274</text>
<text x="521" y="533.27" font-size="7.8" text-anchor="end" >-6330</text>
<text x="521" y="512" font-size="7.8" text-anchor="end" >-6325</text>
<text x="521" y="490.74" font-size="7.8" text-anchor="end" >-6320</text>
<text x="521" y="469.47" font-size="7.8" text-anchor="end" >-6315</text>
<g clip-path="url(#ci)">
<polyline points="560.9,515.1 640,495.3" fill="none" stroke="#111" stroke-width="1.1" stroke-linejoin="round" />
<polyline points="561.3,484.4 640,466.8" fill="none" stroke="#008b00" stroke-width="1.3" stroke-linejoin="round" />
<circle cx="560.9" cy="515.1" r="2.3" fill="none" stroke="#000" stroke-width="0.8"/>
<polygon points="561.3,481.9 558.7,486.4 563.9,486.4" fill="none" stroke="#3a3" stroke-width="0.7" stroke-linejoin="round"/>
</g>
<rect x="523.1" y="463.8" width="83.3" height="69.4" fill="none" stroke="#222" stroke-width="1.2"/>
<rect x="412.1" y="247.2" width="194.3" height="305.8" fill="none" stroke="#222" stroke-width="1.3"/>
</svg></body></html>
